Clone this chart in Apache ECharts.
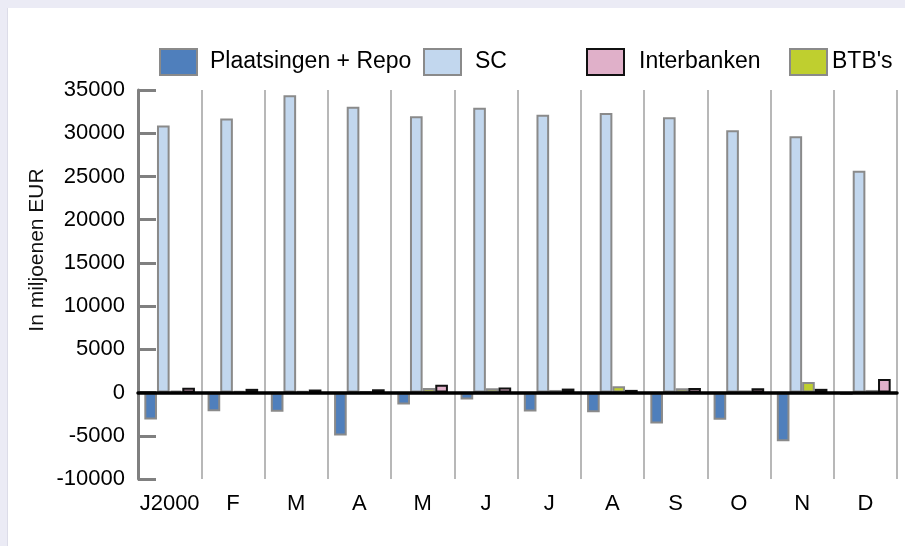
<!DOCTYPE html>
<html>
<head>
<meta charset="utf-8">
<script src="https://cdn.jsdelivr.net/npm/echarts@6/dist/echarts.min.js"></script>
<style>
  html, body { margin: 0; padding: 0; background: #fff; }
  #chart { width: 905px; height: 546px; }
</style>
</head>
<body>
<div id="chart"></div>
<script>
// maanden
var months = ["J2000", "F", "M", "A", "M", "J", "J", "A", "S", "O", "N", "D"];
// waarden in miljoenen EUR
var plaatsingen = [-3120, -2170, -2230, -4970, -1390, -810, -2190, -2270, -3580, -3150, -5620, -280];
var sc = [30900, 31700, 34400, 33050, 31950, 32950, 32150, 32350, 31850, 30350, 29650, 25650];
var btb = [220, 200, 200, 120, 520, 500, 300, 720, 500, 250, 1230, 300];
var interbanken = [560, 430, 350, 380, 900, 580, 460, 310, 540, 500, 430, 1580];
var yTicks = [-10000, 35000, 5000]; // min, max, stap

var chart = echarts.init(document.getElementById("chart"));

var font = "Liberation Sans, Arial, sans-serif";

// een legenda per item, zoals in het origineel staan ze niet gelijk verdeeld
function legendItem(name, left, gap) {
  return {
    data: [name],
    left: left,
    top: 48,
    padding: 0,
    itemWidth: 37,
    itemHeight: 26,
    icon: "rect",
    selectedMode: false,
    textStyle: {
      fontFamily: font,
      fontSize: 23,
      color: "#000",
      padding: [0, 0, 0, gap],
    },
  };
}

function barSeries(name, data, color, border) {
  return {
    name: name,
    type: "bar",
    data: data,
    barGap: "0%",
    barCategoryGap: "20%",
    itemStyle: {
      color: color,
      borderColor: border,
      borderWidth: 2,
    },
  };
}

var option = {
  backgroundColor: "#fff",
  animation: false,
  graphic: [
    // lavendel rand boven en links
    { type: "rect", left: 0, top: 0, shape: { width: 905, height: 8 }, style: { fill: "#ebebf5" }, z: -10 },
    { type: "rect", left: 0, top: 0, shape: { width: 7, height: 546 }, style: { fill: "#ebebf5" }, z: -10 },
    { type: "rect", left: 7, top: 8, shape: { width: 1, height: 538 }, style: { fill: "#dcdce8" }, z: -10 },
    {
      type: "text",
      x: 37,
      y: 250,
      rotation: Math.PI / 2,
      style: {
        text: "In miljoenen EUR",
        fontFamily: font,
        fontSize: 21,
        fill: "#111",
        align: "center",
        verticalAlign: "middle",
      },
    },
  ],
  legend: [
    legendItem("Plaatsingen + Repo", 159, 8),
    legendItem("SC", 423, 9),
    legendItem("Interbanken", 586, 10),
    legendItem("BTB's", 789, 0),
  ],
  grid: {
    left: 138,
    right: 8,
    top: 90,
    bottom: 67,
  },
  xAxis: [
    {
      type: "category",
      data: months,
      position: "bottom",
      axisLine: { show: false, onZero: false },
      axisTick: { show: false },
      axisLabel: {
        interval: 0,
        margin: 14,
        fontFamily: font,
        fontSize: 22,
        color: "#000",
      },
      splitLine: {
        show: true,
        interval: 0,
        lineStyle: { color: "#a0a0a0", width: 1.5 },
      },
    },
    {
      // nullijn
      type: "category",
      data: months,
      position: "bottom",
      z: 5,
      axisLine: { show: true, onZero: true, lineStyle: { color: "#000", width: 3.5 } },
      axisTick: { show: false },
      axisLabel: { show: false },
      splitLine: { show: false },
    },
  ],
  yAxis: {
    type: "value",
    min: yTicks[0],
    max: yTicks[1],
    interval: yTicks[2],
    axisLine: { show: true, lineStyle: { color: "#808080", width: 3 } },
    axisTick: {
      show: true,
      inside: true,
      length: 18,
      lineStyle: { color: "#808080", width: 3 },
    },
    axisLabel: {
      margin: 13,
      fontFamily: font,
      fontSize: 22,
      color: "#000",
      formatter: function (v) {
        return String(v);
      },
    },
    splitLine: { show: false },
  },
  series: [
    barSeries("Plaatsingen + Repo", plaatsingen, "#4f7fbc", "#8a8a8a"),
    barSeries("SC", sc, "#c2d7ee", "#8a8a8a"),
    barSeries("BTB's", btb, "#bfcf2f", "#8a8a8a"),
    barSeries("Interbanken", interbanken, "#e0b0c9", "#111"),
  ],
};

chart.setOption(option);
window.addEventListener("resize", function () {
  chart.resize();
});
</script>
</body>
</html>
